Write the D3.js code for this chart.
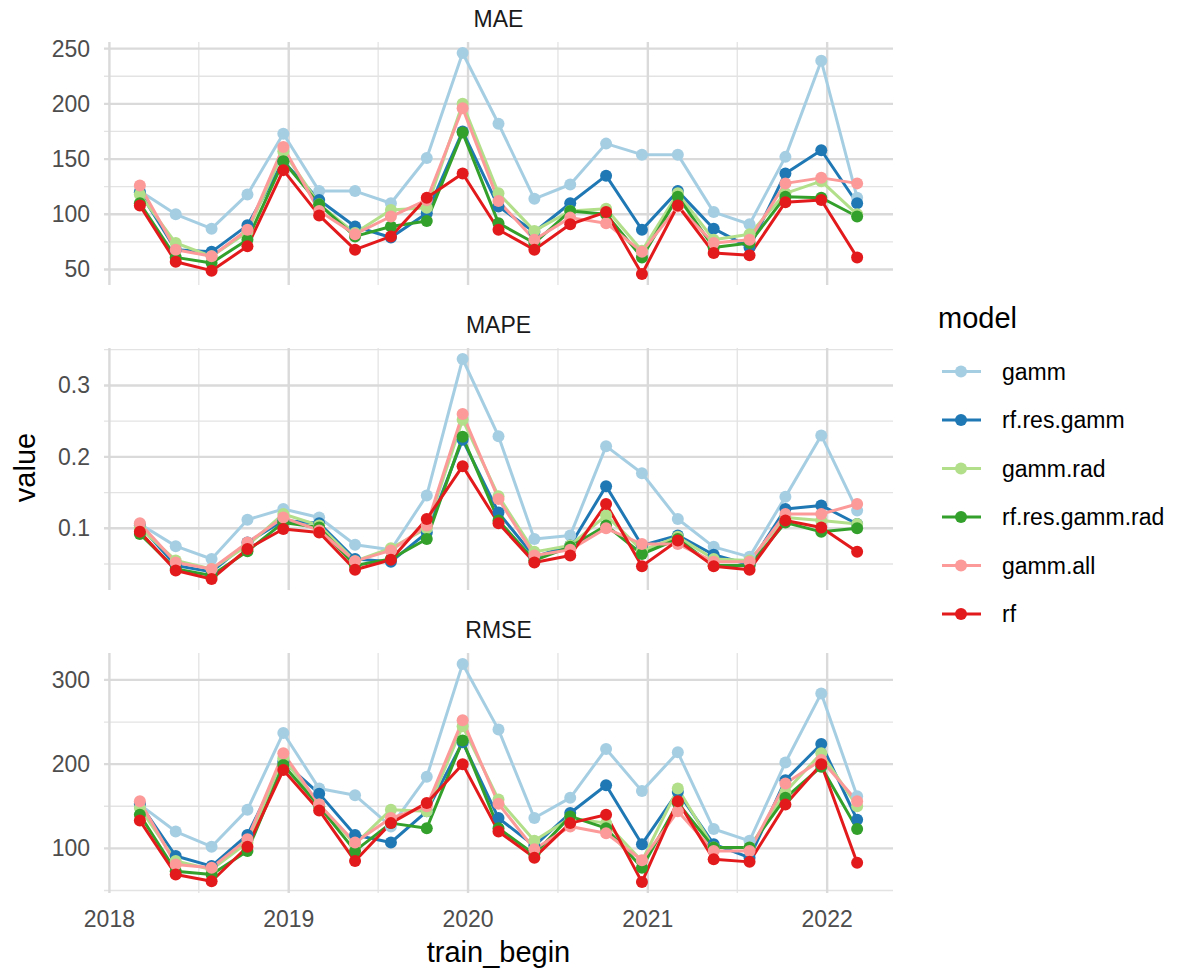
<!DOCTYPE html>
<html lang="en">
<head>
<meta charset="utf-8">
<title>model metrics</title>
<script src="https://cdn.jsdelivr.net/npm/d3@7"></script>
<style>
  body { margin: 0; background: #fff; }
  text { font-family: "Liberation Sans", Arial, Helvetica, sans-serif; }
</style>
</head>
<body>
<div id="chart"></div>
<script>
  // train_begin dates (one every 73 days)
  const dates = ['2018-03-04', '2018-05-16', '2018-07-28', '2018-10-09', '2018-12-21',
    '2019-03-04', '2019-05-16', '2019-07-28', '2019-10-09', '2019-12-21',
    '2020-03-03', '2020-05-15', '2020-07-27', '2020-10-08', '2020-12-20',
    '2021-03-03', '2021-05-15', '2021-07-27', '2021-10-08', '2021-12-20',
    '2022-03-03'];

  const models = ['gamm', 'rf.res.gamm', 'gamm.rad', 'rf.res.gamm.rad', 'gamm.all', 'rf'];
  const colors = ['#a6cee3', '#1f78b4', '#b2df8a', '#33a02c', '#fb9a99', '#e31a1c'];
  const metrics = ['MAE', 'MAPE', 'RMSE'];

  // MAE
  const maeGamm = [121, 100, 87, 118, 173, 121, 121, 110, 151, 246, 182, 114, 127, 164, 154, 154, 102, 91, 152, 239, 115];
  const maeRfResGamm = [120, 68, 66, 90, 148, 113, 89, 79, 101, 175, 107, 84, 110, 135, 86, 121, 87, 70, 137, 158, 110];
  const maeGammRad = [118, 74, 62, 84, 157, 109, 83, 104, 106, 200, 119, 85, 103, 105, 67, 119, 77, 82, 119, 130, 100];
  const maeRfResGammRad = [110, 61, 56, 77, 148, 109, 80, 89, 94, 174, 92, 74, 103, 100, 61, 116, 70, 74, 116, 115, 98];
  const maeGammAll = [126, 68, 62, 86, 161, 103, 82, 98, 113, 196, 112, 77, 97, 92, 66, 107, 74, 77, 128, 133, 128];
  const maeRf = [108, 57, 49, 71, 140, 99, 68, 80, 115, 137, 86, 68, 91, 102, 46, 108, 65, 63, 111, 113, 61];

  // MAPE
  const mapeGamm = [0.106, 0.075, 0.057, 0.112, 0.127, 0.115, 0.077, 0.070, 0.146, 0.337, 0.229, 0.085, 0.090, 0.215, 0.177, 0.113, 0.074, 0.060, 0.144, 0.230, 0.125];
  const mapeRfResGamm = [0.104, 0.048, 0.039, 0.080, 0.111, 0.107, 0.057, 0.053, 0.094, 0.224, 0.122, 0.060, 0.076, 0.159, 0.076, 0.090, 0.063, 0.049, 0.127, 0.132, 0.106];
  const mapeGammRad = [0.101, 0.055, 0.043, 0.076, 0.120, 0.104, 0.054, 0.072, 0.100, 0.252, 0.145, 0.067, 0.076, 0.118, 0.069, 0.088, 0.057, 0.055, 0.115, 0.111, 0.106];
  const mapeRfResGammRad = [0.092, 0.043, 0.034, 0.068, 0.108, 0.101, 0.048, 0.057, 0.085, 0.228, 0.111, 0.055, 0.074, 0.104, 0.064, 0.085, 0.048, 0.048, 0.108, 0.095, 0.100];
  const mapeGammAll = [0.107, 0.052, 0.043, 0.080, 0.115, 0.097, 0.054, 0.069, 0.104, 0.260, 0.141, 0.062, 0.070, 0.100, 0.078, 0.078, 0.053, 0.053, 0.120, 0.120, 0.134];
  const mapeRf = [0.095, 0.041, 0.029, 0.071, 0.099, 0.094, 0.042, 0.056, 0.113, 0.187, 0.107, 0.052, 0.062, 0.134, 0.047, 0.083, 0.047, 0.042, 0.111, 0.101, 0.067];

  // RMSE
  const rmseGamm = [152, 120, 102, 146, 237, 171, 163, 126, 185, 319, 241, 136, 160, 218, 168, 214, 123, 109, 202, 284, 162];
  const rmseRfResGamm = [153, 91, 79, 116, 203, 165, 116, 107, 144, 226, 136, 103, 142, 175, 105, 167, 105, 89, 181, 224, 134];
  const rmseGammRad = [148, 85, 75, 107, 207, 152, 105, 146, 144, 245, 158, 109, 136, 130, 85, 171, 101, 101, 167, 213, 150];
  const rmseRfResGammRad = [140, 73, 69, 97, 199, 150, 97, 130, 124, 228, 124, 93, 138, 124, 77, 154, 101, 101, 160, 197, 123];
  const rmseGammAll = [156, 81, 77, 111, 213, 152, 107, 136, 150, 252, 153, 99, 126, 118, 86, 144, 97, 97, 177, 205, 156];
  const rmseRf = [133, 69, 61, 102, 193, 145, 85, 130, 154, 200, 120, 89, 130, 140, 60, 156, 87, 84, 152, 200, 83];

  // tick values
  const yearTicks = ['2018', '2019', '2020', '2021', '2022'];
  const maeTicks = [50, 100, 150, 200, 250];
  const mapeTicks = [0.1, 0.2, 0.3];
  const rmseTicks = [100, 200, 300];

  const series = {
    MAE: [maeGamm, maeRfResGamm, maeGammRad, maeRfResGammRad, maeGammAll, maeRf],
    MAPE: [mapeGamm, mapeRfResGamm, mapeGammRad, mapeRfResGammRad, mapeGammAll, mapeRf],
    RMSE: [rmseGamm, rmseRfResGamm, rmseGammRad, rmseRfResGammRad, rmseGammAll, rmseRf]
  };
  const ticks = { MAE: maeTicks, MAPE: mapeTicks, RMSE: rmseTicks };
  const tickFormat = { MAE: d3.format('d'), MAPE: d3.format('.1f'), RMSE: d3.format('d') };

  const width = 1191, height = 974;
  const panelLeft = 104, panelRight = 893;
  const panelBox = { MAE: [42, 285], MAPE: [348, 590], RMSE: [653, 893] };
  const majorColor = '#dadada', minorColor = '#e3e3e3';
  const pointR = 6, lineW = 3;

  const parse = d3.timeParse('%Y-%m-%d');
  const xDates = dates.map(parse);
  let svg = null, x = null;

  function createSvg() {
    svg = d3.select('#chart').append('svg').attr('width', width).attr('height', height);
  }

  function createXScale() {
    const ext = d3.extent(xDates);
    const pad = (ext[1] - ext[0]) * 0.05;
    x = d3.scaleTime()
      .domain([new Date(+ext[0] - pad), new Date(+ext[1] + pad)])
      .range([panelLeft, panelRight]);
  }

  function renderPanel(metric) {
    const [top, bottom] = panelBox[metric];
    const data = series[metric];
    const all = data.flat();
    const ext = d3.extent(all);
    const pad = (ext[1] - ext[0]) * 0.05;
    const y = d3.scaleLinear().domain([ext[0] - pad, ext[1] + pad]).range([bottom, top]);

    const g = svg.append('g').classed('panel', true);

    // minor grid
    const major = ticks[metric];
    const step = major[1] - major[0];
    const minorY = [major[0] - step / 2].concat(major.map(t => t + step / 2))
      .filter(v => v >= y.domain()[0] && v <= y.domain()[1]);
    const years = yearTicks.map(d => d3.timeParse('%Y')(d));
    const minorX = years.map(d => d3.timeMonth.offset(d, 6).getTime() + 1 * 864e5)
      .concat([d3.timeMonth.offset(years[0], -6).getTime()])
      .filter(v => v >= +x.domain()[0] && v <= +x.domain()[1]);

    g.selectAll('line.minor-y').data(minorY).enter().append('line')
      .attr('x1', panelLeft).attr('x2', panelRight)
      .attr('y1', d => y(d)).attr('y2', d => y(d))
      .attr('stroke', minorColor).attr('stroke-width', 1.3);
    g.selectAll('line.minor-x').data(minorX).enter().append('line')
      .attr('x1', d => x(d)).attr('x2', d => x(d))
      .attr('y1', top).attr('y2', bottom)
      .attr('stroke', minorColor).attr('stroke-width', 1.3);

    // major grid
    g.selectAll('line.major-y').data(major).enter().append('line')
      .attr('x1', panelLeft).attr('x2', panelRight)
      .attr('y1', d => y(d)).attr('y2', d => y(d))
      .attr('stroke', majorColor).attr('stroke-width', 2.4);
    g.selectAll('line.major-x').data(years).enter().append('line')
      .attr('x1', d => x(d)).attr('x2', d => x(d))
      .attr('y1', top).attr('y2', bottom)
      .attr('stroke', majorColor).attr('stroke-width', 2.4);

    // y axis labels
    const axis = d3.axisLeft(y).tickValues(major).tickFormat(tickFormat[metric]).tickSize(0).tickPadding(0);
    const ax = g.append('g').attr('transform', `translate(${panelLeft - 14},0)`).call(axis);
    ax.select('.domain').remove();
    ax.selectAll('text')
      .attr('font-size', 23).attr('fill', '#4d4d4d')
      .style('font-family', '"Liberation Sans", Arial, sans-serif');

    // strip title
    g.append('text')
      .text(metric)
      .attr('x', (panelLeft + panelRight) / 2)
      .attr('y', top - 15)
      .attr('text-anchor', 'middle')
      .attr('font-size', 23)
      .attr('fill', '#1a1a1a');

    // lines
    const line = d3.line().x((d, i) => x(xDates[i])).y(d => y(d));
    g.selectAll('path.series').data(data).enter().append('path')
      .attr('d', d => line(d))
      .attr('fill', 'none')
      .attr('stroke', (d, i) => colors[i])
      .attr('stroke-width', lineW)
      .attr('stroke-linejoin', 'round');

    // points
    data.forEach((vals, m) => {
      g.selectAll(null).data(vals).enter().append('circle')
        .attr('cx', (d, i) => x(xDates[i]))
        .attr('cy', d => y(d))
        .attr('r', pointR)
        .attr('fill', colors[m]);
    });
  }

  function renderXAxis() {
    const years = yearTicks.map(d => d3.timeParse('%Y')(d));
    svg.selectAll('text.xtick').data(years).enter().append('text')
      .classed('xtick', true)
      .text((d, i) => yearTicks[i])
      .attr('x', d => x(d))
      .attr('y', 927)
      .attr('text-anchor', 'middle')
      .attr('font-size', 23)
      .attr('fill', '#4d4d4d');

    svg.append('text')
      .text('train_begin')
      .attr('x', (panelLeft + panelRight) / 2)
      .attr('y', 962)
      .attr('text-anchor', 'middle')
      .attr('font-size', 29)
      .attr('fill', '#000');

    svg.append('text')
      .text('value')
      .attr('transform', `translate(35,${(42 + 893) / 2}) rotate(-90)`)
      .attr('text-anchor', 'middle')
      .attr('font-size', 29)
      .attr('fill', '#000');
  }

  function renderLegend() {
    const lg = svg.append('g').classed('legend', true);
    lg.append('text')
      .text('model')
      .attr('x', 938)
      .attr('y', 328)
      .attr('font-size', 29)
      .attr('fill', '#000');

    const rowY = d3.scalePoint().domain(models).range([371.5, 614]);
    const rows = lg.selectAll('g.key').data(models).enter().append('g')
      .attr('transform', d => `translate(0,${rowY(d)})`);
    rows.append('line')
      .attr('x1', 942).attr('x2', 981).attr('y1', 0).attr('y2', 0)
      .attr('stroke', (d, i) => colors[i]).attr('stroke-width', lineW);
    rows.append('circle')
      .attr('cx', 961).attr('cy', 0).attr('r', pointR)
      .attr('fill', (d, i) => colors[i]);
    rows.append('text')
      .text(d => d)
      .attr('x', 1002)
      .attr('y', 0)
      .attr('dy', '0.35em')
      .attr('font-size', 23)
      .attr('fill', '#000');
  }

  function init() {
    createSvg();
    createXScale();
    metrics.forEach(renderPanel);
    renderXAxis();
    renderLegend();
  }

  init();
</script>
</body>
</html>
